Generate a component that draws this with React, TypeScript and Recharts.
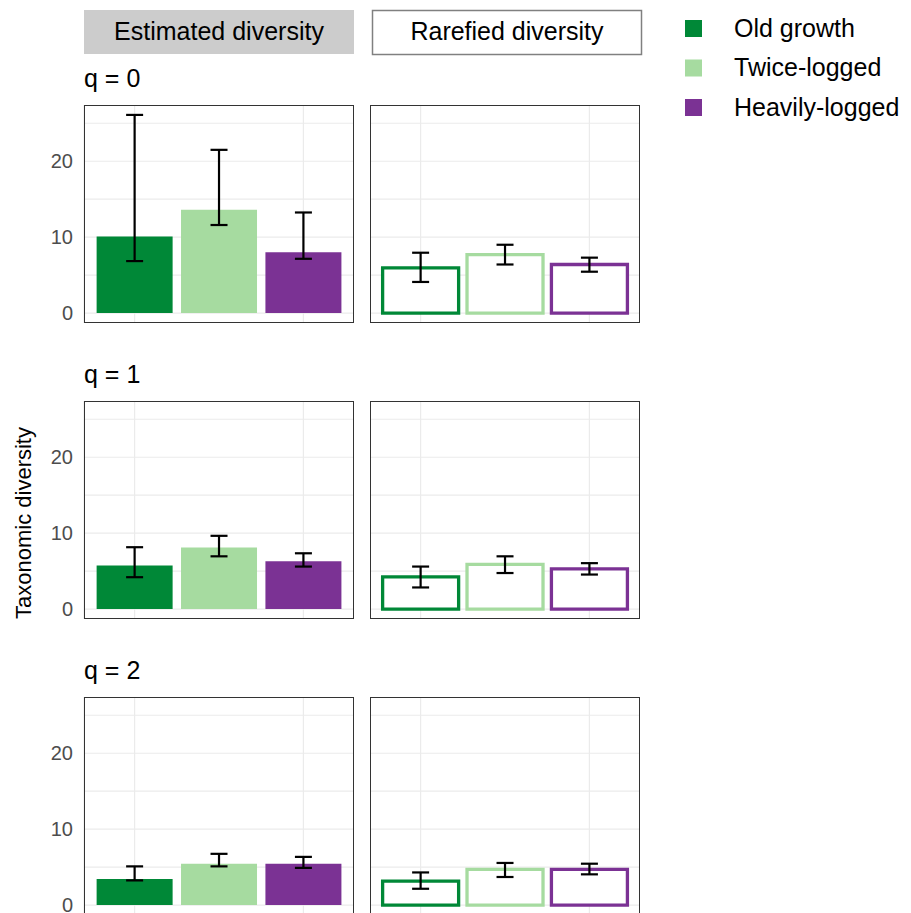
import { BarChart, Bar, Cell, XAxis, YAxis, CartesianGrid, ErrorBar } from 'recharts';

const CATEGORIES = ['Old growth', 'Twice-logged', 'Heavily-logged'];
const COLORS = ['#008837', '#A6DBA0', '#7B3294'];
const Q_LABELS = ['q = 0', 'q = 1', 'q = 2'];
const METHODS = ['Estimated diversity', 'Rarefied diversity'];
const Y_TICKS = [0, 5, 10, 15, 20, 25];

// rows: q = 0, 1, 2 ; columns: categories
const EST_MEAN = [[10.1, 13.6, 8.0], [5.75, 8.1, 6.3], [3.45, 5.45, 5.45]];
const EST_LOW = [[6.85, 11.6, 7.15], [4.2, 6.95, 5.6], [3.25, 5.1, 4.9]];
const EST_HIGH = [[26.1, 21.5, 13.25], [8.15, 9.65, 7.35], [5.1, 6.75, 6.35]];

const RARE_MEAN = [[5.95, 7.7, 6.4], [4.25, 5.9, 5.3], [3.15, 4.7, 4.7]];
const RARE_LOW = [[4.1, 6.4, 5.45], [2.85, 4.75, 4.55], [2.15, 3.7, 4.05]];
const RARE_HIGH = [[7.95, 9.0, 7.3], [5.6, 6.95, 6.05], [4.3, 5.55, 5.45]];

const FONT = '"Liberation Sans", Arial, Helvetica, sans-serif';
const PANEL_W = 270;
const PANEL_H = 218;
const AXIS_W = 60;
const COL_X = [84, 370];
const ROW_Y = [105, 401, 697];

const maxHi = Math.max(...EST_HIGH.flat(), ...RARE_HIGH.flat());
const Y_DOMAIN = [-0.05 * maxHi, 1.05 * maxHi];

function buildRows(mean: number[], low: number[], high: number[]) {
  return CATEGORIES.map((cat, i) => ({
    cat,
    value: mean[i],
    err: [mean[i] - low[i], high[i] - mean[i]],
  }));
}

function Panel({ q, col }: { q: number; col: number }) {
  const filled = col === 0;
  const data = filled
    ? buildRows(EST_MEAN[q], EST_LOW[q], EST_HIGH[q])
    : buildRows(RARE_MEAN[q], RARE_LOW[q], RARE_HIGH[q]);
  const showAxis = col === 0;
  const chartW = PANEL_W + (showAxis ? AXIS_W : 0);
  const left = COL_X[col] - (showAxis ? AXIS_W : 0);

  return (
    <div style={{ position: 'absolute', left, top: ROW_Y[q] }}>
      <BarChart
        width={chartW}
        height={PANEL_H}
        data={data}
        margin={{ top: 0, right: 0, bottom: 0, left: 0 }}
        barCategoryGap="5%"
      >
        <CartesianGrid stroke="#EBEBEB" strokeWidth={1.2} />
        <XAxis dataKey="cat" hide padding={{ left: 8.4, right: 8.4 }} />
        <YAxis
          type="number"
          hide={!showAxis}
          width={AXIS_W}
          domain={Y_DOMAIN}
          ticks={Y_TICKS}
          interval={0}
          allowDataOverflow
          axisLine={false}
          tickLine={false}
          tickSize={6}
          tickMargin={5}
          tickFormatter={(v: number) => (v % 10 === 0 ? String(v) : '')}
          tick={{ fill: '#4D4D4D', fontSize: 20, fontFamily: FONT }}
        />
        <Bar dataKey="value" isAnimationActive={false}>
          {data.map((d, i) => (
            <Cell
              key={d.cat}
              fill={filled ? COLORS[i] : '#FFFFFF'}
              stroke={filled ? 'none' : COLORS[i]}
              strokeWidth={filled ? 0 : 3.3}
            />
          ))}
          <ErrorBar dataKey="err" width={8.5} strokeWidth={2.2} stroke="#000000" />
        </Bar>
      </BarChart>
      <div
        style={{
          position: 'absolute',
          left: showAxis ? AXIS_W : 0,
          top: 0,
          width: PANEL_W,
          height: PANEL_H,
          boxSizing: 'border-box',
          border: '1px solid #333333',
          pointerEvents: 'none',
        }}
      />
    </div>
  );
}

export default function App() {
  return (
    <div style={{ position: 'absolute', left: 0, top: 0, width: 911, height: 913, background: '#fff', overflow: 'hidden' }}>
      {[0, 1, 2].map((q) => [0, 1].map((col) => <Panel key={`${q}-${col}`} q={q} col={col} />))}
      <svg width={911} height={913} style={{ position: 'absolute', left: 0, top: 0, pointerEvents: 'none' }} fontFamily={FONT}>
        {/* column strips */}
        <rect x={84} y={10} width={270} height={44} fill="#CCCCCC" />
        <rect x={372.5} y={10.5} width={269} height={44} fill="#FFFFFF" stroke="#808080" strokeWidth={1.5} />
        <text x={219} y={39.5} textAnchor="middle" fontSize={25} fill="#000">{METHODS[0]}</text>
        <text x={507} y={39.5} textAnchor="middle" fontSize={25} fill="#000">{METHODS[1]}</text>
        {/* row labels */}
        {Q_LABELS.map((lab, q) => (
          <text key={lab} x={84} y={ROW_Y[q] - 18} fontSize={25} fill="#000">{lab}</text>
        ))}
        {/* y axis title */}
        <text
          x={0}
          y={0}
          transform="translate(31 523) rotate(-90)"
          textAnchor="middle"
          fontSize={22}
          fill="#000"
        >
          Taxonomic diversity
        </text>
        {/* legend */}
        {CATEGORIES.map((c, i) => (
          <g key={c}>
            <rect x={685} y={20 + i * 39.5} width={17} height={17} fill={COLORS[i]} />
            <text x={734} y={36.5 + i * 39.5} fontSize={25} fill="#000">{c}</text>
          </g>
        ))}
      </svg>
    </div>
  );
}
